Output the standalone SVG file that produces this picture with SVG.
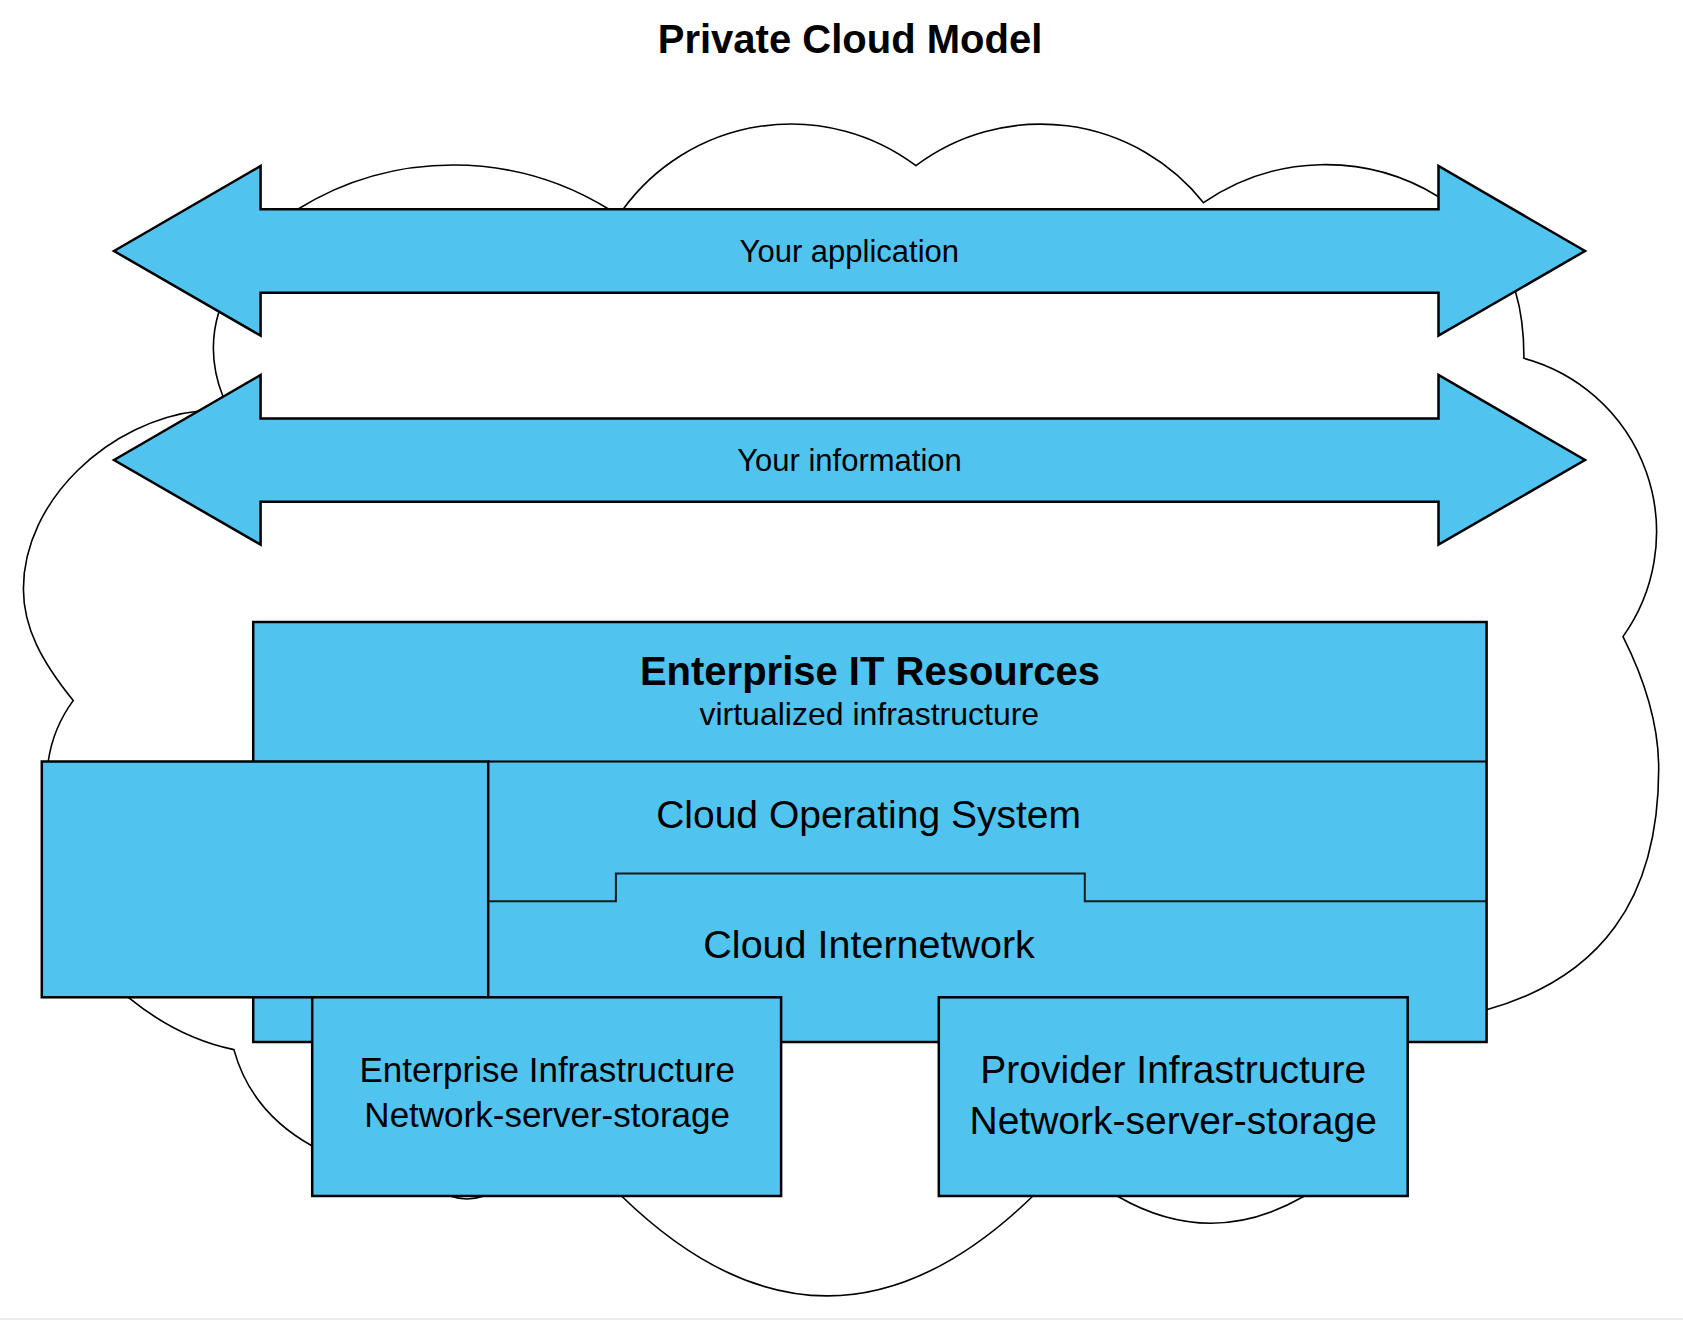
<svg xmlns="http://www.w3.org/2000/svg" width="1683" height="1320" viewBox="0 0 1683 1320">
<style>
.cloud{fill:#ffffff;stroke:#000000;stroke-width:1.6;stroke-linejoin:miter}
.shape{fill:#50C3EF;stroke:#000000;stroke-width:2.5;stroke-linejoin:miter}
.line{fill:none;stroke:#000000;stroke-width:2.2}
.step{fill:none;stroke:#1a1a1a;stroke-width:2}
.t{font-family:"Liberation Sans",Arial,sans-serif;fill:#000000;text-anchor:middle}
.b{font-weight:bold}
</style>
<rect x="0" y="0" width="1683" height="1320" fill="#ffffff"/>
<rect x="0" y="1318" width="1683" height="2" fill="#ececec"/>
<g id="title">
<text class="t b" x="850" y="53" font-size="40">Private Cloud Model</text>
</g>
<g id="cloud">
<path class="cloud" d="M 221,404 L 223.1,396.7 Q 206,354 218.9,311.7 L 245,250 L 297.7,209.3 A 296 296 0 0 1 609,209.3 L 616,228 L 623.1,209.3 A 208 208 0 0 1 915.9,165.7 A 208 208 0 0 1 1203.5,202.7 A 215 215 0 0 1 1438.5,196.7 L 1515.5,291.7 C 1521,310 1524,335 1523.9,358.3 A 180 180 0 0 1 1623,636.6 C 1645.5,681.3 1658.7,723.4 1658.7,768.4 C 1658.7,900 1600,978 1486.6,1009.8 L 1400,1030 L 1360,1150 L 1303.6,1196.5 Q 1210.8,1249.9 1118,1196.5 L 1080,1150 L 1032.4,1196.5 Q 827.2,1395.3 622,1196.5 L 600,1150 L 484,1196 Q 467,1202 450,1196 L 350,1150 L 312.2,1146 Q 251,1112 233.9,1049.6 Q 178.75,1038.35 128.6,997.7 L 100,900 L 48.2,761.5 Q 53,728 73.2,700.6 C 42,662 23.4,628 23.4,589 C 23.4,500 110,420 200.9,410.7 Z"/>
</g>
<g id="arrow-application">
<path class="shape" d="M 114,251 L 260.6,166 L 260.6,209.3 L 1438.5,209.3 L 1438.5,166 L 1585,251 L 1438.5,335.7 L 1438.5,292.7 L 260.6,292.7 L 260.6,335.7 Z"/>
<text class="t" x="849.3" y="262.3" font-size="31">Your application</text>
</g>
<g id="arrow-information">
<path class="shape" d="M 114,460 L 260.6,375 L 260.6,418.5 L 1438.5,418.5 L 1438.5,375 L 1585,460 L 1438.5,544.7 L 1438.5,501.7 L 260.6,501.7 L 260.6,544.7 Z"/>
<text class="t" x="849.5" y="471" font-size="31">Your information</text>
</g>
<g id="enterprise-it-resources">
<rect class="shape" x="253.2" y="622" width="1233.4" height="420"/>
<text class="t b" x="870" y="684.5" font-size="40">Enterprise IT Resources</text>
<text class="t" x="869.3" y="725.3" font-size="32">virtualized infrastructure</text>
</g>
<g id="left-block">
<rect class="shape" x="41.8" y="761.5" width="446.4" height="235.8"/>
</g>
<g id="connectors">
<path class="line" d="M 488.2,761.5 H 1486.6"/>
<path class="step" d="M 488.2,901.3 H 615.9 V 873.5 H 1084.8 V 901.3 H 1486.6"/>
</g>
<g id="cloud-operating-system">
<text class="t" x="868.6" y="827.6" font-size="39">Cloud Operating System</text>
</g>
<g id="cloud-internetwork">
<text class="t" x="869.1" y="958" font-size="39.5">Cloud Internetwork</text>
</g>
<g id="enterprise-infrastructure">
<rect class="shape" x="312.2" y="997.3" width="468.9" height="198.7"/>
<text class="t" x="547.2" y="1082.3" font-size="35">Enterprise Infrastructure</text>
<text class="t" x="547.2" y="1127.4" font-size="35">Network-server-storage</text>
</g>
<g id="provider-infrastructure">
<rect class="shape" x="938.8" y="997.3" width="468.9" height="198.7"/>
<text class="t" x="1173.2" y="1083" font-size="39">Provider Infrastructure</text>
<text class="t" x="1173.2" y="1133.7" font-size="39">Network-server-storage</text>
</g>
</svg>
